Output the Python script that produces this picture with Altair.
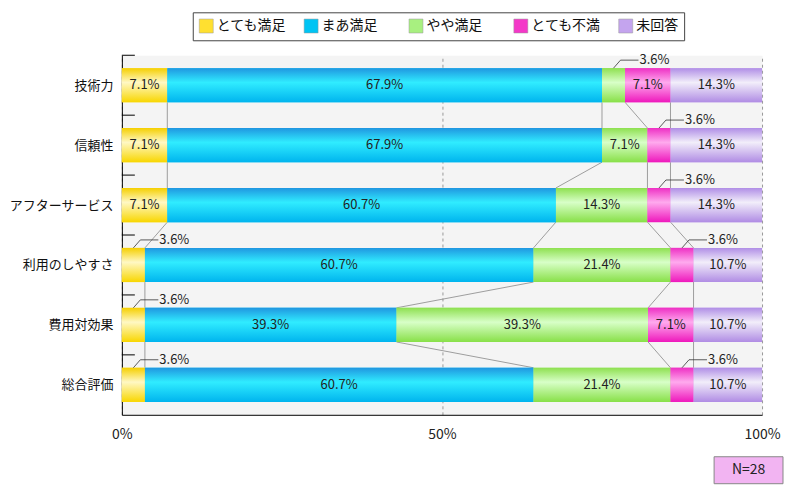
import altair as alt
import pandas as pd

categories = ["技術力", "信頼性", "アフターサービス", "利用のしやすさ", "費用対効果", "総合評価"]
series = ["とても満足", "まあ満足", "やや満足", "とても不満", "未回答"]
v_very_satisfied = [7.1, 7.1, 7.1, 3.6, 3.6, 3.6]
v_fairly_satisfied = [67.9, 67.9, 60.7, 60.7, 39.3, 60.7]
v_somewhat_satisfied = [3.6, 7.1, 14.3, 21.4, 39.3, 21.4]
v_very_dissatisfied = [7.1, 3.6, 3.6, 3.6, 7.1, 3.6]
v_no_answer = [14.3, 14.3, 14.3, 10.7, 10.7, 10.7]
n_label = "N=28"

solid_colors = ["#ffe030", "#00c4f4", "#a8f080", "#f438c8", "#c4a4ee"]
gradients = [
    ["#f5cf00", "#fff8c4", "#f8d600"],
    ["#2096e0", "#30ecff", "#00b4ee"],
    ["#8ee050", "#d8ffc8", "#88e048"],
    ["#ee30c4", "#ffaaee", "#ee18bc"],
    ["#b08ee6", "#f2eefa", "#b08ce4"],
]

H = 0.57
values = [v_very_satisfied, v_fairly_satisfied, v_somewhat_satisfied,
          v_very_dissatisfied, v_no_answer]

rows = []
cums = []
for i, cat in enumerate(categories):
    cum = 0.0
    row_cums = []
    for k, s in enumerate(series):
        v = values[k][i]
        rows.append(dict(cat=cat, idx=i, series=s, order=k, start=cum, end=cum + v,
                         mid=cum + v / 2, ytop=i - H / 2, ybot=i + H / 2,
                         label=f"{v:.1f}%", value=v))
        cum += v
        row_cums.append(cum)
    cums.append(row_cums)
df = pd.DataFrame(rows)

conn = []
for i in range(len(categories) - 1):
    for k in range(len(series) - 1):
        conn.append(dict(x=cums[i][k], x2=cums[i + 1][k], y=i + H / 2, y2=i + 1 - H / 2))
conn_df = pd.DataFrame(conn)

bounds_df = pd.DataFrame({"b": [i - 0.5 for i in range(len(categories))]})

FONT = "Noto Sans CJK JP"
xscale = alt.Scale(domain=[0, 100], nice=False, zero=False)
yscale = alt.Scale(domain=[-0.5, len(categories) - 0.5], reverse=True, nice=False, zero=False)
label_arr = "[" + ",".join(f"'{c}'" for c in categories) + "]"
xaxis = alt.Axis(values=[0, 50, 100], labelExpr="datum.value + '%'", ticks=False,
                 grid=True, gridDash=[3, 3], gridColor="#999", domainColor="black",
                 labelPadding=13, labelFontSize=14, labelFont=FONT, labelColor="#222",
                 labelFlush=False, title=None)
yaxis = alt.Axis(values=list(range(len(categories))), labelExpr=label_arr + "[datum.value]",
                 ticks=False, grid=False, domainColor="black", labelPadding=9,
                 labelFontSize=13, labelFont=FONT, labelColor="#111", title=None)

base = alt.Chart(df).mark_bar().encode(
    x=alt.X("start:Q", scale=xscale, axis=xaxis),
    x2="end:Q",
    y=alt.Y("ytop:Q", scale=yscale, axis=yaxis),
    y2="ybot:Q",
    color=alt.Color("series:N", scale=alt.Scale(domain=series, range=solid_colors),
                    sort=series,
                    legend=alt.Legend(orient="none", legendX=71, legendY=-43,
                                      direction="horizontal", columns=5, gridAlign="all",
                                      columnPadding=16, symbolType="square", symbolSize=196,
                                      labelFontSize=14, labelFont=FONT, labelColor="#111",
                                      strokeColor="#444", padding=6, title=None,
                                      labelOffset=3, symbolStrokeColor="#999",
                                      symbolStrokeWidth=0.5, fillColor="white",
                                      symbolOpacity=1)),
)

grad_layers = []
for s, g in zip(series, gradients):
    grad_layers.append(
        alt.Chart(df).transform_filter(alt.datum.series == s).mark_bar(
            fill=alt.Gradient(gradient="linear", x1=0, x2=0, y1=0, y2=1,
                              stops=[alt.GradientStop(offset=0, color=g[0]),
                                     alt.GradientStop(offset=0.42, color=g[1]),
                                     alt.GradientStop(offset=1, color=g[2])])
        ).encode(x=alt.X("start:Q", scale=xscale), x2="end:Q",
                 y=alt.Y("ytop:Q", scale=yscale), y2="ybot:Q")
    )

connectors = alt.Chart(conn_df).mark_rule(color="#888", strokeWidth=0.8).encode(
    x=alt.X("x:Q", scale=xscale), x2="x2:Q",
    y=alt.Y("y:Q", scale=yscale), y2="y2:Q")

bticks = alt.Chart(bounds_df).mark_rule(color="black", strokeWidth=1).encode(
    x=alt.value(0), x2=alt.value(13), y=alt.Y("b:Q", scale=yscale))

inside = alt.Chart(df).transform_filter(alt.datum.value >= 5).mark_text(
    fontSize=13, font=FONT, color="#222").encode(
    x=alt.X("mid:Q", scale=xscale), y=alt.Y("idx:Q", scale=yscale), text="label:N")

small = df[df.value < 5]
lead1 = alt.Chart(small).mark_rule(color="#333", strokeWidth=0.8, x2Offset=7, y2Offset=-8).encode(
    x=alt.X("mid:Q", scale=xscale), x2="mid:Q",
    y=alt.Y("ytop:Q", scale=yscale), y2="ytop:Q")
lead2 = alt.Chart(small).mark_rule(color="#333", strokeWidth=0.8, xOffset=7, x2Offset=25,
                                   yOffset=-8, y2Offset=-8).encode(
    x=alt.X("mid:Q", scale=xscale), x2="mid:Q",
    y=alt.Y("ytop:Q", scale=yscale), y2="ytop:Q")
outside = alt.Chart(small).mark_text(fontSize=13, font=FONT, color="#222", align="left",
                                     dx=26, dy=-8, baseline="middle").encode(
    x=alt.X("mid:Q", scale=xscale), y=alt.Y("ytop:Q", scale=yscale), text="label:N")

nbox = alt.Chart(pd.DataFrame({"t": [n_label]})).mark_rect(
    fill="#f2b4f2", stroke="#888", strokeWidth=1).encode(
    x=alt.value(593), x2=alt.value(662), y=alt.value(402), y2=alt.value(429))
ntext = alt.Chart(pd.DataFrame({"t": [n_label]})).mark_text(
    fontSize=14, font=FONT, color="#222").encode(
    x=alt.value(627.5), y=alt.value(415.5), text="t:N")

chart = alt.layer(connectors, base, *grad_layers, bticks, inside, lead1, lead2, outside,
                  nbox, ntext).properties(
    width=641, height=360,
    autosize=alt.AutoSizeParams(type="none"),
    padding={"left": 114, "top": 47, "right": 30, "bottom": 80},
).configure_view(fill="#f4f4f4", stroke="transparent")

chart.save("out.html", embed_options={"renderer": "svg", "actions": False})
